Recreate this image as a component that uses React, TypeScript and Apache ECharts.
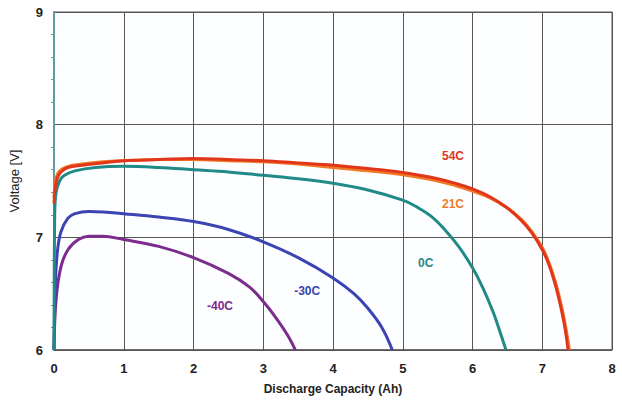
import React, { useEffect, useRef } from "react";
import * as echarts from "echarts";

const xTicks = [0, 1, 2, 3, 4, 5, 6, 7, 8];
const yTicks = [6, 7, 8, 9];

const x54 = [0, 0.02, 0.05, 0.1, 0.2, 0.4, 0.7, 1, 1.5, 2, 2.5, 3, 3.5, 4, 4.5, 5, 5.5, 5.75, 6.0, 6.25, 6.5, 6.7, 6.85, 7.0, 7.1, 7.2, 7.28, 7.33, 7.37];
const y54 = [7.3, 7.45, 7.53, 7.58, 7.62, 7.64, 7.66, 7.68, 7.69, 7.7, 7.69, 7.68, 7.66, 7.64, 7.61, 7.575, 7.52, 7.48, 7.43, 7.36, 7.26, 7.15, 7.04, 6.89, 6.75, 6.55, 6.34, 6.18, 6.0];

const x21 = [0, 0.02, 0.05, 0.1, 0.2, 0.4, 0.7, 1, 1.5, 2, 2.5, 3, 3.5, 4, 4.5, 5, 5.5, 5.75, 6.0, 6.25, 6.5, 6.7, 6.85, 7.0, 7.1, 7.2, 7.29, 7.34, 7.39];
const y21 = [7.35, 7.5, 7.56, 7.6, 7.63, 7.65, 7.67, 7.68, 7.69, 7.69, 7.68, 7.67, 7.65, 7.62, 7.59, 7.555, 7.5, 7.46, 7.41, 7.35, 7.26, 7.16, 7.05, 6.91, 6.77, 6.58, 6.35, 6.19, 6.0];

const x0 = [0, 0.01, 0.03, 0.08, 0.15, 0.3, 0.6, 1, 1.5, 2, 2.5, 3, 3.5, 4, 4.5, 5, 5.2, 5.4, 5.6, 5.8, 6.0, 6.15, 6.3, 6.4, 6.48];
const y0 = [6.0, 7.2, 7.4, 7.5, 7.55, 7.59, 7.62, 7.63, 7.62, 7.6, 7.58, 7.55, 7.52, 7.48, 7.42, 7.33, 7.27, 7.19, 7.07, 6.92, 6.73, 6.55, 6.33, 6.15, 6.0];

const xm30 = [0, 0.02, 0.05, 0.1, 0.2, 0.3, 0.5, 0.8, 1, 1.5, 2, 2.5, 3, 3.5, 4, 4.3, 4.5, 4.7, 4.85];
const ym30 = [6.0, 6.6, 6.88, 7.05, 7.17, 7.21, 7.23, 7.22, 7.21, 7.18, 7.14, 7.07, 6.96, 6.82, 6.64, 6.5, 6.37, 6.2, 6.0];

const xm40 = [0, 0.03, 0.1, 0.2, 0.35, 0.5, 0.7, 1, 1.5, 2, 2.5, 2.8, 3.0, 3.2, 3.35, 3.46];
const ym40 = [6.0, 6.45, 6.74, 6.89, 6.98, 7.01, 7.01, 6.98, 6.92, 6.82, 6.68, 6.56, 6.43, 6.27, 6.13, 6.0];

const seriesNames = ["54C", "21C", "0C", "-30C", "-40C"];
const seriesColors = ["#e2361b", "#f07a26", "#1f8a86", "#3b44b2", "#7b2c8c"];
const seriesX = [x54, x21, x0, xm30, xm40];
const seriesY = [y54, y21, y0, ym30, ym40];
const labelX = [5.72, 5.72, 5.33, 3.63, 2.38];
const labelY = [7.72, 7.3, 6.77, 6.52, 6.39];

export default function App() {
  const ref = useRef<HTMLDivElement>(null);
  useEffect(() => {
    if (!ref.current) return;
    const chart = echarts.init(ref.current, undefined, { renderer: "svg" });
    const gridColor = "#5a5555";
    chart.setOption({
      animation: false,
      backgroundColor: "#ffffff",
      grid: { left: 53, right: 10, top: 12, bottom: 54, show: true, borderColor: gridColor, borderWidth: 1, backgroundColor: "#fdfeff" },
      xAxis: {
        type: "value",
        min: xTicks[0],
        max: xTicks[xTicks.length - 1],
        interval: 1,
        name: "Discharge Capacity (Ah)",
        nameLocation: "middle",
        nameGap: 33,
        nameTextStyle: { fontFamily: "Liberation Sans, Arial", fontWeight: "bold", fontSize: 12, color: "#222" },
        axisLine: { lineStyle: { color: gridColor, width: 1.5 } },
        axisTick: { show: false },
        axisLabel: { fontFamily: "Liberation Sans, Arial", fontWeight: "bold", fontSize: 13, color: "#222", margin: 12 },
        splitLine: { show: true, lineStyle: { color: gridColor, width: 1 } },
      },
      yAxis: {
        type: "value",
        min: yTicks[0],
        max: yTicks[yTicks.length - 1],
        interval: 1,
        name: "Voltage [V]",
        nameLocation: "middle",
        nameGap: 33,
        nameRotate: 90,
        nameTextStyle: { fontFamily: "Liberation Sans, Arial", fontSize: 13, color: "#222" },
        axisLine: { show: true, lineStyle: { color: "#5f9ea0", width: 2 } },
        axisTick: { show: false },
        minorTick: { show: true, splitNumber: 5, length: 3, lineStyle: { color: "#5f9ea0" } },
        axisLabel: { fontFamily: "Liberation Sans, Arial", fontWeight: "bold", fontSize: 13, color: "#222", margin: 11 },
        splitLine: { show: true, lineStyle: { color: gridColor, width: 1 } },
      },
      series: seriesNames.map((n, i) => ({
        name: n,
        type: "line",
        smooth: 0.4,
        showSymbol: false,
        data: seriesX[i].map((x, j) => [x, seriesY[i][j]]),
        lineStyle: { color: seriesColors[i], width: 3 },
        itemStyle: { color: seriesColors[i] },
        z: 10 - i,
      })),
    });
    const texts = seriesNames.map((n, i) => {
      const p = chart.convertToPixel({ gridIndex: 0 }, [labelX[i], labelY[i]]) as number[];
      return {
        type: "text",
        x: p[0],
        y: p[1],
        style: {
          text: n,
          fill: seriesColors[i],
          font: "bold 12px 'Liberation Sans', Arial",
          align: "center",
          verticalAlign: "middle",
        },
        z: 100,
      };
    });
    chart.setOption({ graphic: texts });
    return () => chart.dispose();
  }, []);
  return <div ref={ref} style={{ position: "fixed", left: 0, top: 0, width: 622, height: 404 }} />;
}
